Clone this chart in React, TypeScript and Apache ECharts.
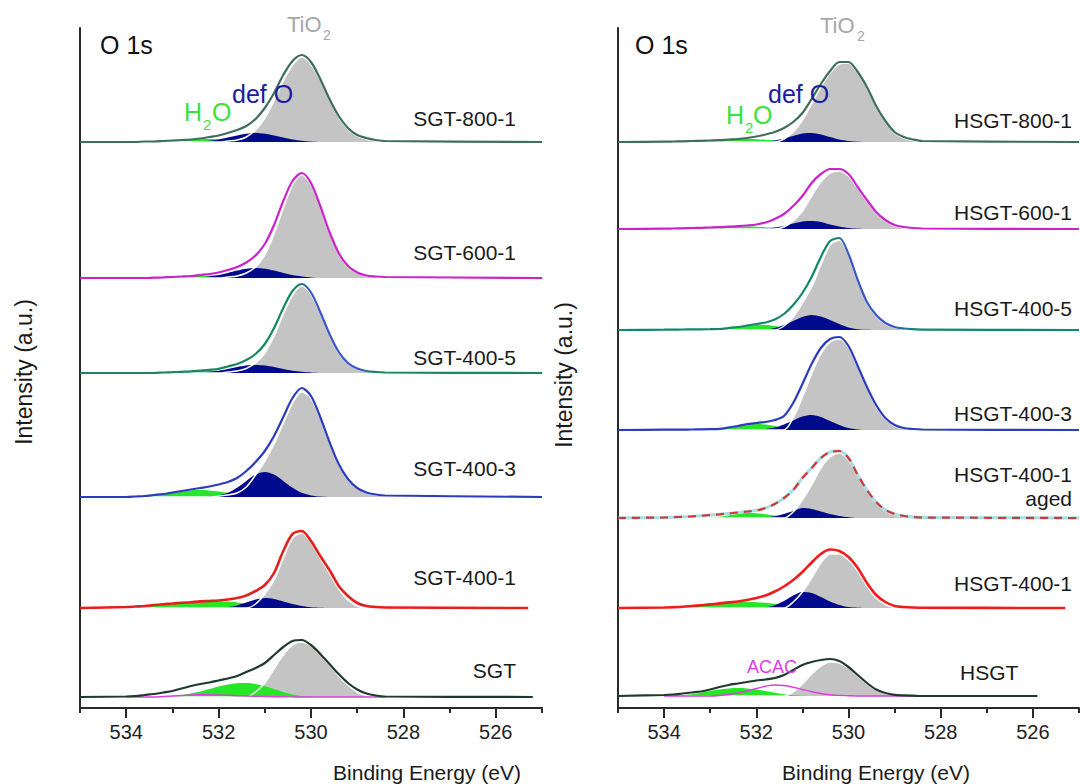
import React, { useEffect, useRef } from "react";
import * as echarts from "echarts";

// ---------------- DATA ----------------
// binding-energy grid (eV) shared by all curves
const E_GRID = [534.0, 533.8, 533.6, 533.4, 533.2, 533.0, 532.8, 532.6, 532.4, 532.2, 532.0, 531.8, 531.6, 531.4, 531.2, 531.0, 530.8, 530.6, 530.4, 530.2, 530.0, 529.8, 529.6, 529.4, 529.2, 529.0, 528.8, 528.6, 528.4];
const E_START = 535;
const X_MAJOR = [534, 532, 530, 528, 526];
const X_MINOR = [535, 533, 531, 529, 527, 525];

// ---- left panel (SGT) ----
const SGT_NAMES = ["SGT-800-1", "SGT-600-1", "SGT-400-5", "SGT-400-3", "SGT-400-1", "SGT"];
const SGT_OFFSETS = [566, 430, 335, 211, 100, 11];
const SGT_ENDS = [525, 525, 525, 525, 525.3, 525.2];

const SGT800_ENV = [0, 0, 0.5, 0.5, 1, 1.5, 2, 2.5, 3.5, 5, 6.5, 9, 12, 16, 23, 34, 49, 67, 81, 87, 80, 63, 43, 26, 14, 7, 4, 2, 1];
const SGT800_TIO2 = [0, 0, 0, 0, 0, 0, 0, 0, 0, 0, 0, 1, 2, 5, 12, 24, 41, 61, 77, 85, 78, 62, 42, 25, 13, 6, 3, 1, 0];
const SGT800_DEFO = [0, 0, 0, 0, 0, 0, 0, 0, 0.5, 1.3, 2.6, 4.5, 6.6, 8.3, 9, 8.3, 6.6, 4.5, 2.6, 1.3, 0.5, 0, 0, 0, 0, 0, 0, 0, 0];
const SGT800_H2O = [0, 0, 0, 0.4, 0.7, 1.2, 1.8, 2.4, 2.8, 3, 2.8, 2.4, 1.8, 1.2, 0.7, 0.4, 0, 0, 0, 0, 0, 0, 0, 0, 0, 0, 0, 0, 0];

const SGT600_ENV = [0, 0, 0, 0.3, 0.6, 1, 1.5, 2, 3, 4, 5.5, 8, 11, 15.5, 22.5, 34, 53, 77, 97, 105, 95, 72, 46, 25, 12, 5.5, 2.5, 1.5, 1];
const SGT600_TIO2 = [0, 0, 0, 0, 0, 0, 0, 0, 0, 0, 0, 1, 2, 5, 11, 23, 44, 70, 93, 103, 94, 71, 45, 24, 11, 5, 2, 1, 0.5];
const SGT600_DEFO = [0, 0, 0, 0, 0, 0, 0, 0, 0.6, 1.5, 2.9, 5, 7.4, 9.3, 10, 9.3, 7.4, 5, 2.9, 1.5, 0.6, 0, 0, 0, 0, 0, 0, 0, 0];
const SGT600_H2O = [0, 0, 0, 0.3, 0.6, 1, 1.5, 2, 2.4, 2.5, 2.4, 2, 1.5, 1, 0.6, 0, 0, 0, 0, 0, 0, 0, 0, 0, 0, 0, 0, 0, 0];

const SGT4005_ENV = [0, 0, 0, 0, 0.5, 0.8, 1.2, 1.6, 2.4, 3.2, 4.2, 6.5, 9, 13, 19, 29, 45, 65, 82, 89, 80.5, 61, 39, 21, 10, 4.5, 2, 1, 0.5];
const SGT4005_TIO2 = [0, 0, 0, 0, 0, 0, 0, 0, 0, 0, 0, 1, 2, 4.5, 10, 20, 37, 59, 78, 87, 79, 60, 38, 20, 9.5, 4, 2, 1, 0.5];
const SGT4005_DEFO = [0, 0, 0, 0, 0, 0, 0, 0, 0.5, 1.2, 2.3, 4, 5.9, 7.4, 8, 7.4, 5.9, 4, 2.3, 1.2, 0.5, 0, 0, 0, 0, 0, 0, 0, 0];
const SGT4005_H2O = [0, 0, 0, 0, 0.5, 0.8, 1.2, 1.6, 1.9, 2, 1.9, 1.6, 1.2, 0.8, 0.5, 0, 0, 0, 0, 0, 0, 0, 0, 0, 0, 0, 0, 0, 0];

const SGT4003_ENV = [0, 0.5, 1, 2, 3, 4.5, 6, 7.5, 9, 10.5, 12.5, 15, 19, 26, 35, 46, 61, 80, 99, 109, 101, 80, 55, 33, 18, 9, 4.5, 2.5, 1.5];
const SGT4003_TIO2 = [0, 0, 0, 0, 0, 0, 0, 0, 0, 0, 1, 2, 4, 10, 22, 36, 53, 74, 94, 105, 99, 79, 54, 32, 17, 8.5, 4, 2, 1];
const SGT4003_DEFO = [0, 0, 0, 0, 0, 0, 0, 0, 0, 0.5, 1.6, 4.2, 9.2, 16, 22.4, 25, 22.4, 16, 9.2, 4.2, 1.6, 0.5, 0, 0, 0, 0, 0, 0, 0];
const SGT4003_H2O = [0, 0.4, 0.9, 1.7, 2.8, 4.2, 5.6, 6.6, 7, 6.6, 5.6, 4.2, 2.8, 1.7, 0.9, 0.4, 0, 0, 0, 0, 0, 0, 0, 0, 0, 0, 0, 0, 0];

const SGT4001_ENV = [1, 1.5, 2, 3, 3.8, 4.5, 5.2, 5.8, 6.6, 7, 7.5, 8.5, 10, 12.5, 17, 23, 35, 57, 74, 77, 67, 52, 38, 22, 12, 5, 2, 1, 0.5];
const SGT4001_TIO2 = [0, 0, 0, 0, 0, 0, 0, 0, 0, 0, 0, 0, 0, 0, 4, 14, 28, 50, 70, 75, 66, 50, 35, 19, 8, 2, 0, 0, 0];
const SGT4001_DEFO = [0, 0, 0, 0, 0, 0, 0, 0, 0, 0, 0, 0.8, 2.5, 5.5, 8.5, 10, 9, 6.5, 4, 2, 0.8, 0.2, 0, 0, 0, 0, 0, 0, 0];
const SGT4001_H2O = [0.5, 1, 1.5, 2.2, 3, 4, 5, 5.8, 6.4, 6.8, 6.8, 6.4, 5.6, 4.6, 3.5, 2.4, 1.5, 0.8, 0.4, 0, 0, 0, 0, 0, 0, 0, 0, 0, 0];

const SGT_ENV = [0.5, 1, 2, 3, 4.5, 6, 8.5, 11, 13, 14.5, 16.5, 18.5, 21, 25, 29, 34, 42, 50, 56, 57, 52, 43, 33, 23, 14, 7.5, 3.5, 1.5, 0.5];
const SGT_TIO2 = [0, 0, 0, 0, 0, 0, 0, 0, 0, 0, 0, 0, 0, 0, 5, 14, 28, 42, 52, 55, 51, 42, 32, 21, 12, 5, 1.5, 0, 0];
const SGT_H2O = [0, 0, 0, 0, 0.5, 1, 2, 3.5, 5.5, 8, 10.5, 12.5, 13.8, 14, 13, 11, 8, 5, 2.5, 1, 0.3, 0, 0, 0, 0, 0, 0, 0, 0];
const SGT_ACAC = [0, 0, 0, 0, 0.5, 1, 1.5, 2, 2.2, 2.2, 2, 1.7, 1.3, 1, 0.7, 0.5, 0.3, 0.2, 0.1, 0, 0, 0, 0, 0, 0, 0, 0, 0, 0];

// ---- right panel (HSGT) ----
const HSGT_NAMES = ["HSGT-800-1", "HSGT-600-1", "HSGT-400-5", "HSGT-400-3", "HSGT-400-1", "HSGT-400-1", "HSGT"];
const HSGT_OFFSETS = [566, 479, 378, 278, 190, 100, 12];
const HSGT_ENDS = [525, 525, 525, 525, 525, 525.3, 525.9];

const HSGT800_ENV = [0.3, 0.5, 0.7, 1, 1.2, 1.5, 1.8, 2.5, 3, 4, 5.5, 7.5, 10, 14, 20, 29, 43, 58, 71, 80, 80, 70, 55, 36, 21, 10, 5, 2.5, 1];
const HSGT800_TIO2 = [0, 0, 0, 0, 0, 0, 0, 0, 0, 0, 0, 0, 0, 3, 10, 22, 38, 55, 69, 78, 79, 69, 54, 35, 20, 9, 4, 1.5, 0];
const HSGT800_DEFO = [0, 0, 0, 0, 0, 0, 0, 0, 0, 0, 0, 0.5, 1.5, 3.5, 6, 8.5, 9, 7.5, 5, 2.5, 1, 0.3, 0, 0, 0, 0, 0, 0, 0];
const HSGT800_H2O = [0, 0, 0, 0, 0.5, 1, 1.6, 2.3, 2.8, 3, 2.8, 2.3, 1.6, 1, 0.5, 0, 0, 0, 0, 0, 0, 0, 0, 0, 0, 0, 0, 0, 0];

const HSGT600_ENV = [0.3, 0.5, 0.7, 1, 1.2, 1.5, 1.8, 2.3, 2.8, 3.5, 4.5, 6.5, 10, 15, 23, 33, 46, 55, 60, 60, 55, 42, 29, 17, 9, 4, 2, 1, 0.5];
const HSGT600_TIO2 = [0, 0, 0, 0, 0, 0, 0, 0, 0, 0, 0, 0, 0, 2, 8, 18, 33, 47, 56, 58, 53, 41, 28, 16, 8, 3, 1, 0, 0];
const HSGT600_DEFO = [0, 0, 0, 0, 0, 0, 0, 0, 0, 0, 0, 0.5, 1.5, 3, 5.5, 7.5, 8, 7, 4.5, 2.5, 1, 0.3, 0, 0, 0, 0, 0, 0, 0];
const HSGT600_H2O = [0, 0, 0, 0, 0.5, 0.9, 1.4, 2, 2.4, 2.5, 2.3, 1.8, 1.2, 0.7, 0.3, 0, 0, 0, 0, 0, 0, 0, 0, 0, 0, 0, 0, 0, 0];

const HSGT4005_ENV = [0.3, 0.4, 0.5, 0.6, 0.7, 0.8, 1, 2, 3, 4.5, 6, 7.5, 10.5, 16, 25, 37, 53, 73, 89, 92, 76, 50, 28, 15, 7, 3, 1.5, 0.8, 0.4];
const HSGT4005_TIO2 = [0, 0, 0, 0, 0, 0, 0, 0, 0, 0, 0, 0, 0, 4, 13, 27, 43, 65, 85, 90, 75, 49, 27, 14, 6, 2.5, 1, 0.3, 0];
const HSGT4005_DEFO = [0, 0, 0, 0, 0, 0, 0, 0, 0, 0, 0, 0.5, 2, 5, 9, 13, 15, 13.5, 10, 6, 2.5, 0.8, 0.2, 0, 0, 0, 0, 0, 0];
const HSGT4005_H2O = [0, 0, 0, 0, 0, 0, 0.8, 1.6, 2.7, 4, 5, 5, 4, 2.5, 1, 0.3, 0, 0, 0, 0, 0, 0, 0, 0, 0, 0, 0, 0, 0];

const HSGT4003_ENV = [0.3, 0.3, 0.4, 0.5, 0.6, 0.8, 1.2, 2.5, 4, 6, 7, 8, 10, 14, 27, 46, 66, 82, 91, 93, 84, 64, 43, 25, 12, 5, 2, 1, 0.5];
const HSGT4003_TIO2 = [0, 0, 0, 0, 0, 0, 0, 0, 0, 0, 0, 0, 0, 0, 12, 33, 56, 76, 88, 91, 83, 63, 42, 24, 11, 4, 1.5, 0.5, 0];
const HSGT4003_DEFO = [0, 0, 0, 0, 0, 0, 0, 0, 0, 0, 0.3, 1, 2.5, 5.5, 9.5, 13.5, 15, 13, 9, 5, 2, 0.6, 0, 0, 0, 0, 0, 0, 0];
const HSGT4003_H2O = [0, 0, 0, 0, 0, 0.5, 1.2, 2.5, 3.8, 5.2, 6, 5.5, 4, 2.3, 1, 0.3, 0, 0, 0, 0, 0, 0, 0, 0, 0, 0, 0, 0, 0];

const HSGTAGED_ENV = [0.5, 0.8, 1.2, 1.6, 2.2, 3, 3.7, 4.5, 5.5, 6.5, 7.5, 10, 14, 20, 28, 40, 50, 60, 66, 67, 60, 43, 28, 16, 8, 4, 2, 1, 0.5];
const HSGTAGED_TIO2 = [0, 0, 0, 0, 0, 0, 0, 0, 0, 0, 0, 0, 0, 0, 6, 18, 33, 50, 61, 65, 58, 42, 27, 15, 7, 3, 1, 0, 0];
const HSGTAGED_DEFO = [0, 0, 0, 0, 0, 0, 0, 0, 0, 0, 0, 0.6, 1.7, 4, 7, 10, 9, 6.5, 4, 2, 0.8, 0, 0, 0, 0, 0, 0, 0, 0];
const HSGTAGED_H2O = [0, 0, 0, 0, 0, 0.5, 1.3, 2.6, 4, 5, 4.8, 3.8, 2.5, 1.3, 0.5, 0, 0, 0, 0, 0, 0, 0, 0, 0, 0, 0, 0, 0, 0];

const HSGT4001_ENV = [0.5, 0.8, 1.2, 2, 2.8, 3.6, 4.6, 5.6, 6.5, 8, 10, 12.5, 16.5, 21.5, 28, 36, 45.5, 54, 58.5, 57, 51, 40, 25, 13, 6, 2, 1, 0.5, 0.2];
const HSGT4001_TIO2 = [0, 0, 0, 0, 0, 0, 0, 0, 0, 0, 0, 0, 0, 0, 6, 16, 30, 45, 54, 54, 48, 37, 22, 10, 3.5, 0.5, 0, 0, 0];
const HSGT4001_DEFO = [0, 0, 0, 0, 0, 0, 0, 0, 0, 0, 0, 0.6, 2.8, 7, 12.5, 16, 15, 11, 6.5, 3, 1, 0.3, 0, 0, 0, 0, 0, 0, 0];
const HSGT4001_H2O = [0.3, 0.6, 1, 1.6, 2.4, 3.3, 4.3, 5.2, 5.8, 6, 5.8, 5.2, 4.2, 3, 2, 1.1, 0.5, 0.2, 0, 0, 0, 0, 0, 0, 0, 0, 0, 0, 0];

const HSGT_ENV = [1, 1.5, 2.5, 3.5, 4.5, 6.5, 9, 11, 12.5, 14, 15.5, 16.5, 18, 21, 26, 31, 34, 36, 37, 35, 29, 21, 13, 6.5, 3, 1.2, 0.6, 0.3, 0];
const HSGT_TIO2 = [0, 0, 0, 0, 0, 0, 0, 0, 0, 0, 0, 0, 0, 0, 4, 12, 22, 30, 34, 33, 28, 20, 12, 6, 2.5, 0.5, 0, 0, 0];
const HSGT_H2O = [0, 0.3, 0.8, 1.8, 3.3, 5, 6.5, 7.6, 8, 7.6, 6.5, 5, 3.3, 1.8, 0.8, 0.3, 0, 0, 0, 0, 0, 0, 0, 0, 0, 0, 0, 0, 0];
const HSGT_ACAC = [0, 0, 0, 0, 0, 0, 0.5, 1.5, 3, 5, 7.5, 9.7, 11, 10.5, 8.8, 6.5, 4.3, 2.5, 1.3, 0.6, 0.3, 0, 0, 0, 0, 0, 0, 0, 0];

type Spec = { env: number[]; tio2?: number[]; defo?: number[]; h2o?: number[]; acac?: number[] };

const SGT_SPECTRA: Spec[] = [
  { env: SGT800_ENV, tio2: SGT800_TIO2, defo: SGT800_DEFO, h2o: SGT800_H2O },
  { env: SGT600_ENV, tio2: SGT600_TIO2, defo: SGT600_DEFO, h2o: SGT600_H2O },
  { env: SGT4005_ENV, tio2: SGT4005_TIO2, defo: SGT4005_DEFO, h2o: SGT4005_H2O },
  { env: SGT4003_ENV, tio2: SGT4003_TIO2, defo: SGT4003_DEFO, h2o: SGT4003_H2O },
  { env: SGT4001_ENV, tio2: SGT4001_TIO2, defo: SGT4001_DEFO, h2o: SGT4001_H2O },
  { env: SGT_ENV, tio2: SGT_TIO2, h2o: SGT_H2O, acac: SGT_ACAC },
];
const HSGT_SPECTRA: Spec[] = [
  { env: HSGT800_ENV, tio2: HSGT800_TIO2, defo: HSGT800_DEFO, h2o: HSGT800_H2O },
  { env: HSGT600_ENV, tio2: HSGT600_TIO2, defo: HSGT600_DEFO, h2o: HSGT600_H2O },
  { env: HSGT4005_ENV, tio2: HSGT4005_TIO2, defo: HSGT4005_DEFO, h2o: HSGT4005_H2O },
  { env: HSGT4003_ENV, tio2: HSGT4003_TIO2, defo: HSGT4003_DEFO, h2o: HSGT4003_H2O },
  { env: HSGTAGED_ENV, tio2: HSGTAGED_TIO2, defo: HSGTAGED_DEFO, h2o: HSGTAGED_H2O },
  { env: HSGT4001_ENV, tio2: HSGT4001_TIO2, defo: HSGT4001_DEFO, h2o: HSGT4001_H2O },
  { env: HSGT_ENV, tio2: HSGT_TIO2, h2o: HSGT_H2O, acac: HSGT_ACAC },
];

// ---------------- STYLE ----------------
const FONT = '"Liberation Sans", Arial, Helvetica, sans-serif';
const GRAY = "#c4c4c4";
const NAVY = "#000a8c";
const GREEN = "#27e627";
const ACAC_COLOR = "#e03ce0";

type LStyle = { color: string; grad?: string; width?: number; dash?: boolean; under?: string; overDash?: string };
const SGT_STYLES: LStyle[] = [
  { color: "#3f6e60" },
  { color: "#cc22cc" },
  { color: "#17875e", grad: "#3a56c8" },
  { color: "#2b3cbf" },
  { color: "#f21b1b", width: 2.6, overDash: "#a83a2a" },
  { color: "#1e3a2a" },
];
const HSGT_STYLES: LStyle[] = [
  { color: "#3f6e60" },
  { color: "#cc22cc" },
  { color: "#11876b", grad: "#3a56c8" },
  { color: "#2b3cbf" },
  { color: "#cf3a3a", dash: true, under: "#a6dde6" },
  { color: "#f21b1b", width: 2.6 },
  { color: "#1e3a2a" },
];

function lineColor(st: LStyle) {
  if (!st.grad) return st.color;
  return new echarts.graphic.LinearGradient(0, 0, 1, 0, [
    { offset: 0, color: st.color },
    { offset: 0.47, color: st.color },
    { offset: 0.5, color: st.grad },
    { offset: 0.6, color: st.grad },
    { offset: 0.64, color: st.color },
    { offset: 1, color: st.color },
  ]);
}

function buildPanel(spectra: Spec[], offsets: number[], ends: number[], styles: LStyle[], xi: number, yi: number) {
  const out: any[] = [];
  spectra.forEach((sp, k) => {
    const off = offsets[k];
    const comp = (vals: number[]) => E_GRID.map((e, i) => [e, off + vals[i]]);
    const base = {
      type: "line",
      xAxisIndex: xi,
      yAxisIndex: yi,
      symbol: "none",
      showSymbol: false,
      smooth: 0.3,
      silent: true,
      animation: false,
    };
    if (sp.tio2)
      out.push({ ...base, data: comp(sp.tio2), lineStyle: { color: "#ffffff", width: 1.5 }, areaStyle: { color: GRAY, opacity: 1, origin: off } });
    if (sp.h2o)
      out.push({ ...base, data: comp(sp.h2o), lineStyle: { width: 0, opacity: 0 }, areaStyle: { color: GREEN, opacity: 1, origin: off } });
    if (sp.defo)
      out.push({ ...base, data: comp(sp.defo), lineStyle: { width: 0, opacity: 0 }, areaStyle: { color: NAVY, opacity: 1, origin: off } });
    if (sp.acac) out.push({ ...base, data: comp(sp.acac), lineStyle: { color: ACAC_COLOR, width: 1.4 } });
    const envData = [[E_START, off], ...comp(sp.env), [ends[k], off]];
    const st = styles[k];
    if (st.under) out.push({ ...base, data: envData, lineStyle: { color: st.under, width: 3 } });
    out.push({
      ...base,
      data: envData,
      lineStyle: { color: lineColor(st), width: st.width ?? 2.2, type: st.dash ? [8, 6] : "solid" },
    });
    if (st.overDash)
      out.push({ ...base, data: envData, lineStyle: { color: st.overDash, width: 1.2, type: [7, 7], opacity: 0.8 } });
  });
  return out;
}

function xAxes(gridIndex: number) {
  const common = {
    type: "value",
    gridIndex,
    min: 525,
    max: 535,
    interval: 1,
    inverse: true,
    position: "bottom",
    offset: 0,
    splitLine: { show: false },
  };
  return [
    {
      ...common,
      axisLine: { show: true, onZero: false, lineStyle: { color: "#2a2a2a", width: 2 } },
      axisTick: { show: true, customValues: X_MAJOR, length: 10, lineStyle: { color: "#2a2a2a", width: 2 } },
      axisLabel: {
        show: true,
        customValues: X_MAJOR,
        formatter: (v: number) => (v % 2 === 0 ? String(v) : ""),
        fontSize: 20,
        color: "#222",
        fontFamily: FONT,
        margin: 14,
      },
    },
    {
      ...common,
      axisLine: { show: false, onZero: false },
      axisTick: { show: true, customValues: X_MINOR, length: 5, lineStyle: { color: "#2a2a2a", width: 2 } },
      axisLabel: { show: false },
    },
  ];
}

function yAxis(gridIndex: number) {
  return {
    type: "value",
    gridIndex,
    min: 0,
    max: 680,
    axisLine: { show: true, onZero: false, lineStyle: { color: "#2a2a2a", width: 2 } },
    axisTick: { show: false },
    axisLabel: { show: false },
    splitLine: { show: false },
  };
}

function txt(text: string, x: number, y: number, size: number, color: string, align = "left", rotation = 0) {
  return {
    type: "text",
    x,
    y,
    z: 100,
    rotation,
    silent: true,
    style: {
      text,
      fill: color,
      fontSize: size,
      fontFamily: FONT,
      align,
      verticalAlign: "middle",
      textAlign: align,
      textVerticalAlign: "middle",
    },
  };
}

const SGT_LABEL_Y = [118, 252, 357, 468, 577, 670];
const HSGT_LABEL_Y = [120, 212, 308, 413, 474, 583, 672];

export default function App() {
  const ref = useRef<HTMLDivElement>(null);
  useEffect(() => {
    if (!ref.current) return;
    const chart = echarts.init(ref.current, undefined, { renderer: "svg" });
    const [xa0, xa0m] = xAxes(0);
    const [xa1, xa1m] = xAxes(1);
    const graphics: any[] = [];
    // left panel texts
    graphics.push(txt("O 1s", 100, 45, 25, "#111"));
    graphics.push(txt("TiO", 287, 24, 22, "#a6a6a6"));
    graphics.push(txt("2", 323, 35, 14, "#a6a6a6"));
    graphics.push(txt("def O", 232, 94, 25, "#1c1c9a"));
    graphics.push(txt("H", 184, 112, 25, "#3ee03e"));
    graphics.push(txt("2", 203, 124, 15, "#3ee03e"));
    graphics.push(txt("O", 212, 112, 25, "#3ee03e"));
    SGT_NAMES.forEach((n, k) => graphics.push(txt(n, 516, SGT_LABEL_Y[k], 21, "#1a1a1a", "right")));
    graphics.push(txt("Binding Energy (eV)", 427, 772, 21, "#1a1a1a", "center"));
    graphics.push(txt("Intensity (a.u.)", 24, 372, 23, "#1a1a1a", "center", Math.PI / 2));
    // right panel texts
    graphics.push(txt("O 1s", 635, 45, 25, "#111"));
    graphics.push(txt("TiO", 820, 25, 22, "#a6a6a6"));
    graphics.push(txt("2", 857, 36, 14, "#a6a6a6"));
    graphics.push(txt("def O", 768, 94, 25, "#1c1c9a"));
    graphics.push(txt("H", 726, 115, 25, "#3ee03e"));
    graphics.push(txt("2", 745, 127, 15, "#3ee03e"));
    graphics.push(txt("O", 753, 115, 25, "#3ee03e"));
    HSGT_NAMES.forEach((n, k) => {
      if (k === HSGT_NAMES.length - 1) graphics.push(txt(n, 960, HSGT_LABEL_Y[k], 21, "#1a1a1a", "left"));
      else graphics.push(txt(n, 1072, HSGT_LABEL_Y[k], 21, "#1a1a1a", "right"));
    });
    graphics.push(txt("aged", 1072, 498, 21, "#1a1a1a", "right"));
    graphics.push(txt("ACAC", 747, 667, 18, ACAC_COLOR, "left"));
    graphics.push(txt("Binding Energy (eV)", 876, 772, 21, "#1a1a1a", "center"));
    graphics.push(txt("Intensity (a.u.)", 564, 375, 23, "#1a1a1a", "center", Math.PI / 2));

    const option: any = {
      animation: false,
      backgroundColor: "#ffffff",
      textStyle: { fontFamily: FONT },
      grid: [
        { left: 80, top: 28, width: 462, height: 680, containLabel: false },
        { left: 618, top: 28, width: 461, height: 680, containLabel: false },
      ],
      xAxis: [xa0, xa1, xa0m, xa1m],
      yAxis: [yAxis(0), yAxis(1)],
      series: [
        ...buildPanel(SGT_SPECTRA, SGT_OFFSETS, SGT_ENDS, SGT_STYLES, 0, 0),
        ...buildPanel(HSGT_SPECTRA, HSGT_OFFSETS, HSGT_ENDS, HSGT_STYLES, 1, 1),
      ],
      graphic: graphics,
    };
    chart.setOption(option);
    return () => chart.dispose();
  }, []);
  return (
    <div
      ref={ref}
      style={{ position: "absolute", left: 0, top: 0, width: 1080, height: 784, background: "#fff" }}
    />
  );
}
